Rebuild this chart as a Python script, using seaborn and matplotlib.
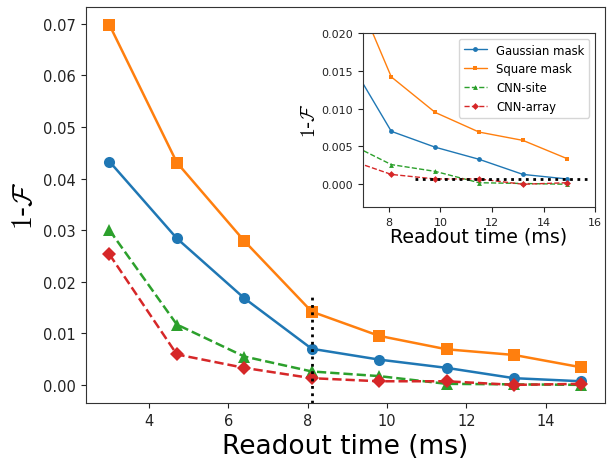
import matplotlib
matplotlib.use("Agg")
import matplotlib.pyplot as plt
import seaborn as sns
import numpy as np
import pandas as pd

readout_time = [3.0, 4.7, 6.4, 8.1, 9.8, 11.5, 13.2, 14.9]
gaussian_mask = [0.0433, 0.0284, 0.0168, 0.0070, 0.0049, 0.0033, 0.0013, 0.0007]
square_mask = [0.0698, 0.0431, 0.0279, 0.0142, 0.0095, 0.0069, 0.0058, 0.0034]
cnn_site = [0.0300, 0.0117, 0.0055, 0.0026, 0.0017, 0.0002, 0.0001, 0.0000]
cnn_array = [0.0253, 0.0059, 0.0033, 0.0013, 0.0007, 0.0007, 0.0000, 0.0002]
series_names = ["Gaussian mask", "Square mask", "CNN-site", "CNN-array"]

sns.set_style("ticks")
plt.rcParams['font.family'] = ['DejaVu Sans']
plt.rcParams['mathtext.fontset'] = 'cm'
plt.rcParams['text.color'] = 'black'
plt.rcParams['axes.labelcolor'] = 'black'
plt.rcParams['xtick.color'] = '#222222'
plt.rcParams['ytick.color'] = '#222222'

colors = ["#1f77b4", "#ff7f0e", "#2ca02c", "#d62728"]
markers = ["o", "s", "^", "D"]
styles = ["-", "-", "--", "--"]
data = [gaussian_mask, square_mask, cnn_site, cnn_array]

fig = plt.figure(figsize=(6.13, 4.6), dpi=100)
ax = fig.add_axes([0.140, 0.122, 0.847, 0.861])

for name, vals, c, m, ls in zip(series_names, data, colors, markers, styles):
    sns.lineplot(x=readout_time, y=vals, ax=ax, color=c, marker=m, linestyle=ls,
                 linewidth=1.8, markersize=8 if m != "D" else 7, markeredgewidth=0,
                 label=name, legend=False)
ax.axvline(8.1, ymin=0, ymax=(0.0175 + 0.0035) / (0.0733 + 0.0035), color="black",
           linestyle=":", linewidth=2)
ax.set_xlabel("Readout time (ms)", fontsize=19)
ax.set_ylabel(r"$1$-$\mathcal{F}$", fontsize=20)
ax.tick_params(labelsize=10.5)
ax.set_xticks([4, 6, 8, 10, 12, 14])
for s in ax.spines.values():
    s.set_color("#333333")

ins = fig.add_axes([0.592, 0.548, 0.379, 0.378])
for name, vals, c, m, ls in zip(series_names, data, colors, markers, styles):
    sns.lineplot(x=readout_time, y=vals, ax=ins, color=c, marker=m, linestyle=ls,
                 linewidth=1.0, markersize=3.5, markeredgewidth=0, label=name)
ins.plot([9.0, 15.7], [0.0007, 0.0007], color="black", linestyle=":", linewidth=2)
ins.set_xlim(7, 16)
ins.set_ylim(-0.003, 0.020)
ins.set_xticks([8, 10, 12, 14, 16])
ins.set_yticks([0.0, 0.005, 0.010, 0.015, 0.020])
ins.tick_params(labelsize=8)
ins.set_xlabel("Readout time (ms)", fontsize=13.7, labelpad=0)
ins.set_ylabel(r"$1$-$\mathcal{F}$", fontsize=14, labelpad=2)
ins.legend(loc="upper right", fontsize=8.4, frameon=True)
for s in ins.spines.values():
    s.set_color("#333333")

fig.savefig("out.png", dpi=100)
